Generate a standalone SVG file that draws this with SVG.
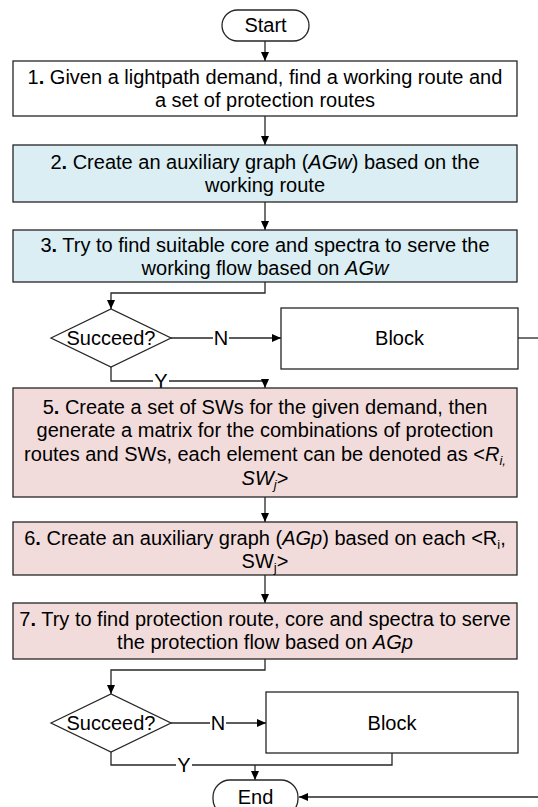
<svg xmlns="http://www.w3.org/2000/svg" width="538" height="807" viewBox="0 0 538 807">
<style>
text{font-family:"Liberation Sans",Arial,sans-serif;font-size:20px;fill:#000;text-anchor:middle}
.b{stroke:#262626;stroke-width:1.3}
.w{fill:#fff}
.blue{fill:#DAEEF3}
.pink{fill:#F2DCDB}
.c{fill:none;stroke:#262626;stroke-width:1.3}
.bd{font-weight:bold}
.i{font-style:italic}
.s{font-size:13px}
</style>
<defs>
<marker id="ah" markerWidth="10" markerHeight="8" refX="9" refY="4" orient="auto" markerUnits="userSpaceOnUse">
<path d="M0,0 L9,4 L0,8 Z" fill="#000"/>
</marker>
</defs>
<g id="connectors">
<line class="c" x1="265" y1="41" x2="265" y2="61" marker-end="url(#ah)"/>
<line class="c" x1="265" y1="116" x2="265" y2="145" marker-end="url(#ah)"/>
<line class="c" x1="265" y1="202" x2="265" y2="230" marker-end="url(#ah)"/>
<polyline class="c" points="265,282 265,293 111,293 111,309" marker-end="url(#ah)"/>
<line class="c" x1="171" y1="338" x2="281" y2="338" marker-end="url(#ah)"/>
<line class="c" x1="518" y1="338" x2="538" y2="338"/>
<polyline class="c" points="111,367 111,381 265,381 265,388" marker-end="url(#ah)"/>
<line class="c" x1="265" y1="497" x2="265" y2="522" marker-end="url(#ah)"/>
<line class="c" x1="265" y1="575" x2="265" y2="603" marker-end="url(#ah)"/>
<polyline class="c" points="265,659 265,670 111,670 111,694" marker-end="url(#ah)"/>
<line class="c" x1="171" y1="723" x2="266" y2="723" marker-end="url(#ah)"/>
<polyline class="c" points="111,752 111,765 392,765 392,753"/>
<line class="c" x1="255" y1="765" x2="255" y2="780" marker-end="url(#ah)"/>
<line class="c" x1="538" y1="797" x2="299" y2="797" marker-end="url(#ah)"/>
<rect class="w" x="213" y="328" width="16" height="20"/>
<text x="221" y="345">N</text>
<rect class="w" x="153" y="371" width="16" height="20"/>
<text x="161" y="388">Y</text>
<rect class="w" x="210" y="713" width="16" height="20"/>
<text x="218" y="730">N</text>
<rect class="w" x="176" y="755" width="16" height="20"/>
<text x="184" y="772">Y</text>
</g>
<g id="start">
<rect class="b w" x="222" y="10" width="87" height="31" rx="15.5"/>
<text x="265.5" y="32">Start</text>
</g>
<g id="step1">
<rect class="b w" x="13" y="61" width="504" height="55"/>
<text x="265" y="84">1<tspan class="bd">.</tspan>  Given a lightpath demand, find a working route and</text>
<text x="265" y="107">a set of protection routes</text>
</g>
<g id="step2">
<rect class="b blue" x="13" y="145" width="504" height="57"/>
<text x="265" y="169">2<tspan class="bd">.</tspan> Create an auxiliary graph (<tspan class="i">AGw</tspan>) based on the</text>
<text x="265" y="192">working route</text>
</g>
<g id="step3">
<rect class="b blue" x="13" y="230" width="504" height="52"/>
<text x="265" y="252">3<tspan class="bd">.</tspan> Try to find suitable core and spectra to serve the</text>
<text x="265" y="275">working flow based on <tspan class="i">AGw</tspan></text>
</g>
<g id="decision1">
<polygon class="b w" points="51,338 111,309 171,338 111,367"/>
<text x="111" y="345">Succeed?</text>
</g>
<g id="block1">
<rect class="b w" x="281" y="308" width="237" height="61"/>
<text x="399.5" y="345">Block</text>
</g>
<g id="step5">
<rect class="b pink" x="13" y="388" width="504" height="109"/>
<text x="265" y="414">5<tspan class="bd">.</tspan> Create a set of SWs for the given demand, then</text>
<text x="265" y="437">generate a matrix for the combinations of protection</text>
<text x="265" y="461">routes and SWs, each element can be denoted as &lt;<tspan class="i">R</tspan><tspan class="i s" dy="4">i,</tspan></text>
<text x="265" y="485"><tspan class="i">SW</tspan><tspan class="i s" dy="4">j</tspan><tspan dy="-4">&gt;</tspan></text>
</g>
<g id="step6">
<rect class="b pink" x="13" y="522" width="504" height="53"/>
<text x="265" y="545">6<tspan class="bd">.</tspan> Create an auxiliary graph (<tspan class="i">AGp</tspan>) based on each &lt;R<tspan class="s" dy="4">i</tspan><tspan dy="-4">,</tspan></text>
<text x="265" y="568">SW<tspan class="s" dy="4">j</tspan><tspan dy="-4">&gt;</tspan></text>
</g>
<g id="step7">
<rect class="b pink" x="13" y="603" width="504" height="56"/>
<text x="265" y="626">7<tspan class="bd">.</tspan> Try to find protection route, core and spectra to serve</text>
<text x="265" y="649">the protection flow based on <tspan class="i">AGp</tspan></text>
</g>
<g id="decision2">
<polygon class="b w" points="51,723 111,694 171,723 111,752"/>
<text x="111" y="730">Succeed?</text>
</g>
<g id="block2">
<rect class="b w" x="266" y="692" width="252" height="61"/>
<text x="392" y="730">Block</text>
</g>
<g id="end">
<rect class="b w" x="213" y="780" width="85" height="36" rx="17"/>
<text x="255.5" y="804">End</text>
</g>
</svg>
